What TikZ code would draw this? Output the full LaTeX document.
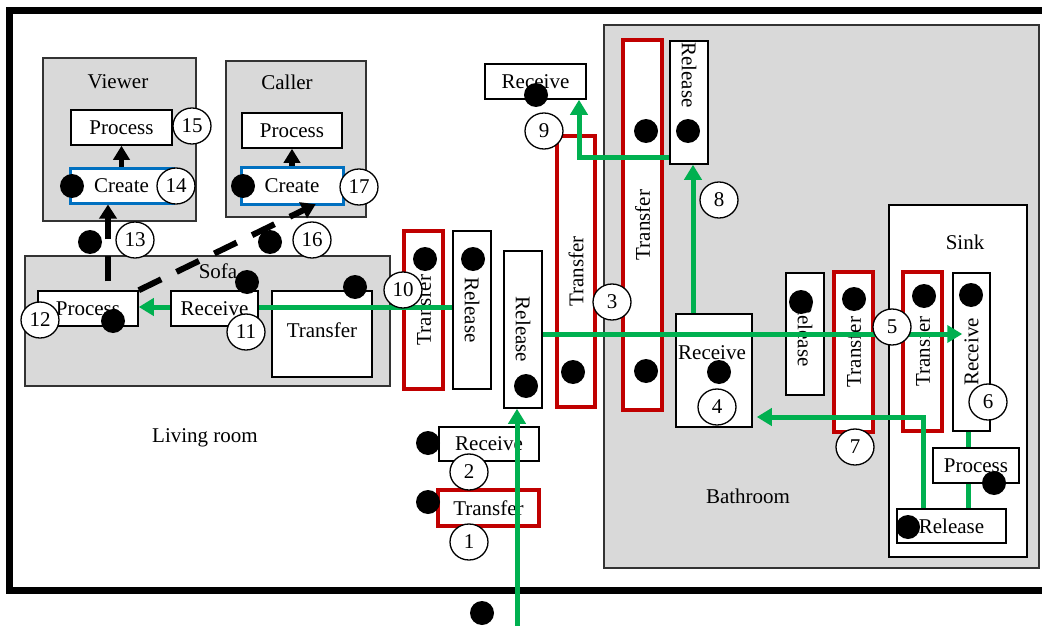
\documentclass[tikz,border=0pt]{standalone}
\usepackage{fontspec}
\setmainfont{Liberation Serif}
\usetikzlibrary{arrows.meta,shapes.geometric}
\definecolor{gfill}{HTML}{D9D9D9}
\definecolor{rred}{HTML}{C00000}
\definecolor{bblue}{HTML}{0070C0}
\definecolor{ggreen}{HTML}{00B050}
\begin{document}
\begin{tikzpicture}[x=1pt,y=-1pt,
  font=\fontsize{21}{25}\selectfont,
  sz/.style 2 args={minimum width=#1pt,minimum height=#2pt},
  gbox/.style={draw=black!80,line width=1.5pt,fill=gfill,inner sep=0pt},
  bx/.style={draw=black,line width=1.5pt,fill=white,inner sep=0pt},
  rbox/.style={draw=rred,line width=3.5pt,fill=white,inner sep=0pt},
  blbox/.style={draw=bblue,line width=3pt,fill=white,inner sep=0pt},
  dot/.style={circle,fill=black,minimum size=24pt,inner sep=0pt},
  num/.style={ellipse,draw=black,line width=1.3pt,fill=white,minimum width=38pt,minimum height=36pt,inner sep=0pt},
  lbl/.style={inner sep=0pt},
  gline/.style={draw=ggreen,line width=5pt},
  garrow/.style={draw=ggreen,line width=5pt,-{Triangle[width=17pt,length=15pt]}},
  karrow/.style={draw=black,line width=5.5pt,-{Triangle[width=16pt,length=14pt]}},
  kdash/.style={draw=black,line width=6pt,dash pattern=on 25pt off 17pt,-{Triangle[width=17pt,length=14pt]}},
]
\useasboundingbox (0,0) rectangle (1042,626);
% outer frame
\draw[line width=7pt] (1046,11) -- (9.5,11) -- (9.5,590) -- (1046,590);

% grey areas
\node[gbox,sz={153}{163}] (viewer) at (119.5,139.5) {};
\node[lbl] (viewerlbl) at (118,82) {Viewer};
\node[gbox,sz={140}{156}] (caller) at (296,139) {};
\node[lbl] (callerlbl) at (287,82) {Caller};
\node[gbox,sz={365}{130}] (sofa) at (207.5,321) {};
\node[lbl] (sofalbl) at (218,271) {Sofa};
\node[gbox,sz={435}{543}] (bath) at (821.5,296.5) {};
\node[lbl] (bathlbl) at (748,496) {Bathroom};
\node[bx,sz={138}{352}] (sink) at (958,381) {};
\node[lbl] (sinklbl) at (965,242) {Sink};
\node[lbl] (livinglbl) at (205,438) {Living room};

% viewer / caller
\node[bx,sz={101}{35}] (proc15) at (121.5,127.5) {Process};
\node[blbox,sz={103}{35}] (cre14) at (121.5,185.5) {Create};
\node[bx,sz={100}{35}] (procC) at (292,130.5) {Process};
\node[blbox,sz={102}{37}] (cre17) at (292,185.5) {Create};

% sofa
\node[bx,sz={100}{35}] (proc12) at (88,308.5) {Process};
\node[bx,sz={100}{86}] (trS) at (322,334) {};
\node[lbl] (trSt) at (322,330) {Transfer};

% living room column
\node[rbox,sz={39}{158}] (tr10) at (423.5,310) {};
\node[lbl,rotate=90] (tr10t) at (tr10.center) {Transfer};
\node[bx,sz={38}{158}] (relL) at (472,310) {};
\node[lbl,rotate=-90] (relLt) at (relL.center) {Release};
\node[bx,sz={38}{157}] (relM) at (523,329.5) {};
\node[lbl,rotate=-90] (relMt) at (relM.center) {Release};
\node[bx,sz={100}{34}] (rc2) at (489,444) {Receive};
\node[rbox,sz={101}{36}] (tr1) at (488.5,508) {Transfer};
\node[bx,sz={101}{35}] (rcTop) at (535.5,81.5) {Receive};
\node[rbox,sz={38}{271}] (tr3) at (576,271.5) {};
\node[lbl,rotate=90] (tr3t) at (tr3.center) {Transfer};

% bathroom
\node[rbox,sz={39}{370}] (trBig) at (642.5,225) {};
\node[lbl,rotate=90] (trBigt) at (trBig.center) {Transfer};
\node[bx,sz={38}{123}] (relTR) at (689,102.5) {};
\node[lbl,rotate=-90] (relTRt) at (689,75) {Release};
\node[bx,sz={76}{113}] (rc4) at (714,370.5) {};
\node[lbl] (rc4t) at (712,353) {Receive};
\node[bx,sz={38}{122}] (rel800) at (805,334) {};
\node[lbl,rotate=-90] (rel800t) at (rel800.center) {Release};
\node[rbox,sz={39}{160}] (tr7) at (853.5,352) {};
\node[lbl,rotate=90] (tr7t) at (tr7.center) {Transfer};
\node[rbox,sz={39}{159}] (trSk) at (922.5,351.5) {};
\node[lbl,rotate=90] (trSkt) at (trSk.center) {Transfer};
\node[bx,sz={37}{158}] (rc6) at (971.5,352) {};
\node[lbl,rotate=90] (rc6t) at (rc6.center) {Receive};
\node[bx,sz={86}{35}] (prSk) at (976,465.5) {Process};
\node[bx,sz={109}{34}] (relSk) at (951.5,526) {Release};

% green flows
\draw[garrow] (relL.west |- 0,307) -- (proc12.east |- 0,307);
\node[bx,sz={87}{35}] (rc11) at (214.5,308.5) {Receive};
\coordinate (entry) at (517,630);
\draw[garrow] (entry) -- (entry |- relM.south);
\draw[garrow,shorten >=-10pt] (relM.east |- 0,334) -- (rc6.west |- 0,334);
\draw[garrow] (rc4.north -| 693,0) -- (relTR.south -| 693,0);
\draw[garrow] (relTR.west |- 0,157) -| (rcTop.south -| 579,0);
\draw[garrow,shorten >=4pt] (relSk.north -| 923,0) |- (rc4.east |- 0,417);
\draw[gline] (rc6.south -| 968,0) -- (prSk.north -| 968,0);
\draw[gline] (prSk.south -| 968,0) -- (relSk.north -| 968,0);

% black flows
\draw[karrow] (cre14.north) -- (proc15.south);
\draw[karrow] (cre17.north) -- (procC.south);
\draw[kdash,dash phase=33pt] (proc12.north -| 108,0) -- (cre14.south -| 108,0);
\draw[kdash,shorten >=-3pt] (proc12.north east) -- (cre17.south -| 313,0);

% dots
\node[dot] (d14) at (72,186) {};
\node[dot] (d17) at (243,186) {};
\node[dot] (d13) at (90,242) {};
\node[dot] (d16) at (270,242) {};
\node[dot] (d12) at (113,321) {};
\node[dot] (d11) at (247,282) {};
\node[dot] (dtrS) at (355,287) {};
\node[dot] (d10) at (425,259) {};
\node[dot] (drelL) at (473,259) {};
\node[dot] (drelM) at (526,386) {};
\node[dot] (d2) at (428,443) {};
\node[dot] (d1) at (428,502) {};
\node[dot] (d0) at (482,613) {};
\node[dot] (d9) at (536,95) {};
\node[dot] (d3) at (573,372) {};
\node[dot] (dBig1) at (646,131) {};
\node[dot] (dBig2) at (646,371) {};
\node[dot] (d8) at (688,131) {};
\node[dot] (d4) at (719,372) {};
\node[dot] (d800) at (801,302) {};
\node[dot] (d7) at (854,299) {};
\node[dot] (d5) at (924,296) {};
\node[dot] (d6) at (971,295) {};
\node[dot] (dprSk) at (994,483) {};
\node[dot] (drelSk) at (908,527) {};

% numbers
\node[num] (n1) at (469,542) {1};
\node[num] (n2) at (469,472) {2};
\node[num] (n3) at (612,302) {3};
\node[num] (n4) at (717,407) {4};
\node[num] (n5) at (892,327) {5};
\node[num] (n6) at (988,402) {6};
\node[num] (n7) at (855,447) {7};
\node[num] (n8) at (719,200) {8};
\node[num] (n9) at (544,131) {9};
\node[num] (n10) at (403,290) {10};
\node[num] (n11) at (246,332) {11};
\node[num] (n12) at (40,320) {12};
\node[num] (n13) at (135,240) {13};
\node[num] (n14) at (176,186) {14};
\node[num] (n15) at (192,126) {15};
\node[num] (n16) at (312,240) {16};
\node[num] (n17) at (359,187) {17};
\end{tikzpicture}
\end{document}
